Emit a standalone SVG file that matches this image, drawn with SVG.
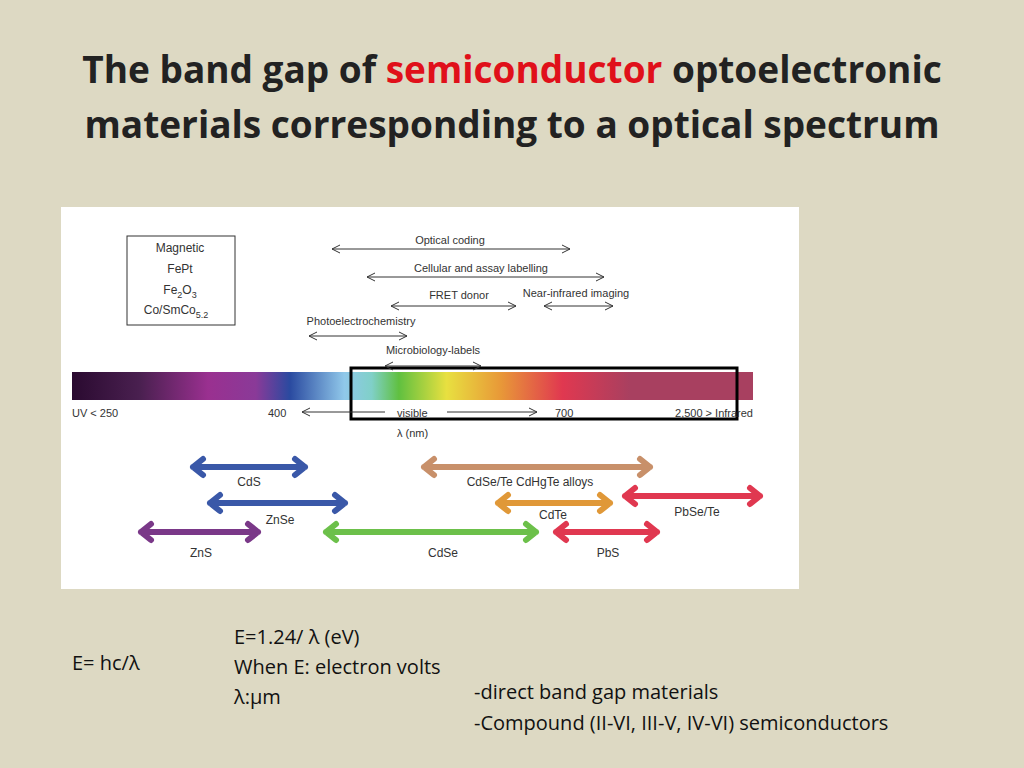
<svg xmlns="http://www.w3.org/2000/svg" width="1024" height="768" viewBox="0 0 1024 768">
<defs>
<linearGradient id="sp" x1="0" x2="1" y1="0" y2="0">
<stop offset="0" stop-color="#2a0a30"/><stop offset="0.1" stop-color="#4a2050"/><stop offset="0.2" stop-color="#9a3090"/><stop offset="0.27" stop-color="#8a3a98"/><stop offset="0.32" stop-color="#2a4aa0"/><stop offset="0.4" stop-color="#90c8ea"/><stop offset="0.44" stop-color="#80d0c8"/><stop offset="0.48" stop-color="#60c040"/><stop offset="0.55" stop-color="#e8e040"/><stop offset="0.63" stop-color="#e89838"/><stop offset="0.72" stop-color="#e03850"/><stop offset="0.82" stop-color="#a84060"/><stop offset="1" stop-color="#a84060"/>
</linearGradient>
<marker id="o" markerWidth="10" markerHeight="10" refX="9" refY="5" orient="auto-start-reverse" markerUnits="userSpaceOnUse"><path d="M1,1 L9,5 L1,9" fill="none" stroke="#333" stroke-width="1"/></marker>
</defs>
<style>
.t{font-family:"Liberation Sans",Arial,sans-serif;font-size:12px;fill:#333}
.s{font-family:"Liberation Sans",Arial,sans-serif;font-size:11px;fill:#333}
.th{stroke:#333;stroke-width:1;fill:none;marker-start:url(#o);marker-end:url(#o)}
.b{fill:none;stroke-width:6;stroke-linecap:round;stroke-linejoin:round}
.h{font-family:"Open Sans","Liberation Sans",sans-serif;font-weight:bold;font-size:37px;fill:#222}
.f{font-family:"Open Sans","Liberation Sans",sans-serif;font-size:20px;fill:#111}
</style>
<rect width="1024" height="768" fill="#ddd9c3"/>
<text class="h" x="512" y="83" text-anchor="middle">The band gap of <tspan fill="#e0101a">semiconductor</tspan> optoelectronic</text>
<text class="h" x="512" y="138" text-anchor="middle">materials corresponding to a optical spectrum</text>
<rect x="61" y="207" width="738" height="382" fill="#fff"/>
<g id="magnetic">
<rect x="127" y="236" width="108" height="89" fill="#fff" stroke="#333"/>
<text class="t" x="180" y="252" text-anchor="middle">Magnetic</text>
<text class="t" x="180" y="273" text-anchor="middle">FePt</text>
<text class="t" x="180" y="294" text-anchor="middle">Fe<tspan font-size="9" dy="4">2</tspan><tspan dy="-4">O</tspan><tspan font-size="9" dy="4">3</tspan></text>
<text class="t" x="176" y="314" text-anchor="middle">Co/SmCo<tspan font-size="9" dy="4">5.2</tspan></text>
</g>
<g id="spectrum">
<rect x="72" y="372" width="681" height="28" fill="url(#sp)"/>
<rect x="351" y="368" width="386" height="51" fill="none" stroke="#000" stroke-width="3"/>
<text class="s" x="72" y="417">UV &lt; 250</text>
<text class="s" x="268" y="417">400</text>
<text class="s" x="397" y="417">visible</text>
<text class="s" x="555" y="417">700</text>
<text class="s" x="753" y="417" text-anchor="end">2,500 &gt; Infrared</text>
<text class="s" x="397" y="437">λ (nm)</text>
</g>
<g id="connectors">
<line class="th" x1="332" y1="249" x2="570" y2="249"/>
<line class="th" x1="367" y1="277" x2="604" y2="277"/>
<line class="th" x1="391" y1="306" x2="516" y2="306"/>
<line class="th" x1="544" y1="306" x2="613" y2="306"/>
<line class="th" x1="309" y1="391" x2="407" y2="391" transform="translate(0,-55)"/>
<line class="th" x1="385" y1="366" x2="481" y2="366"/>
<line x1="385" y1="412" x2="302" y2="412" stroke="#333" marker-end="url(#o)"/>
<line x1="447" y1="412" x2="537" y2="412" stroke="#333" marker-end="url(#o)"/>
<g class="b" stroke="#3a58a8"><path d="M193,467 H305 M203,459 L193,467 L203,475 M295,459 L305,467 L295,475"/><path d="M210,503 H345 M220,495 L210,503 L220,511 M335,495 L345,503 L335,511"/></g>
<g class="b" stroke="#7a3888"><path d="M141,532 H258 M151,524 L141,532 L151,540 M248,524 L258,532 L248,540"/></g>
<g class="b" stroke="#6cc04a"><path d="M326,532 H536 M336,524 L326,532 L336,540 M526,524 L536,532 L526,540"/></g>
<g class="b" stroke="#c8906a"><path d="M424,467 H650 M434,459 L424,467 L434,475 M640,459 L650,467 L640,475"/></g>
<g class="b" stroke="#e09838"><path d="M498,503 H610 M508,495 L498,503 L508,511 M600,495 L610,503 L600,511"/></g>
<g class="b" stroke="#e03850"><path d="M625,496 H760 M635,488 L625,496 L635,504 M750,488 L760,496 L750,504"/><path d="M556,532 H657 M566,524 L556,532 L566,540 M647,524 L657,532 L647,540"/></g>
</g>
<g id="labels">
<text class="t" x="249" y="486" text-anchor="middle">CdS</text>
<text class="t" x="280" y="524" text-anchor="middle">ZnSe</text>
<text class="t" x="201" y="557" text-anchor="middle">ZnS</text>
<text class="t" x="443" y="557" text-anchor="middle">CdSe</text>
<text class="t" x="530" y="486" text-anchor="middle">CdSe/Te CdHgTe alloys</text>
<text class="t" x="553" y="519" text-anchor="middle">CdTe</text>
<text class="t" x="697" y="516" text-anchor="middle">PbSe/Te</text>
<text class="t" x="608" y="557" text-anchor="middle">PbS</text>
<text class="s" x="450" y="244" text-anchor="middle">Optical coding</text>
<text class="s" x="481" y="272" text-anchor="middle">Cellular and assay labelling</text>
<text class="s" x="459" y="299" text-anchor="middle">FRET donor</text>
<text class="s" x="576" y="297" text-anchor="middle">Near-infrared imaging</text>
<text class="s" x="361" y="325" text-anchor="middle">Photoelectrochemistry</text>
<text class="s" x="433" y="354" text-anchor="middle">Microbiology-labels</text>
</g>
<text class="f" x="72" y="670">E= hc/λ</text>
<text class="f" x="234" y="644">E=1.24/ λ (eV)</text>
<text class="f" x="234" y="674">When E: electron volts</text>
<text class="f" x="234" y="704">λ:μm</text>
<text class="f" x="474" y="699">-direct band gap materials</text>
<text class="f" x="474" y="730">-Compound (II-VI, III-V, IV-VI) semiconductors</text>
</svg>
